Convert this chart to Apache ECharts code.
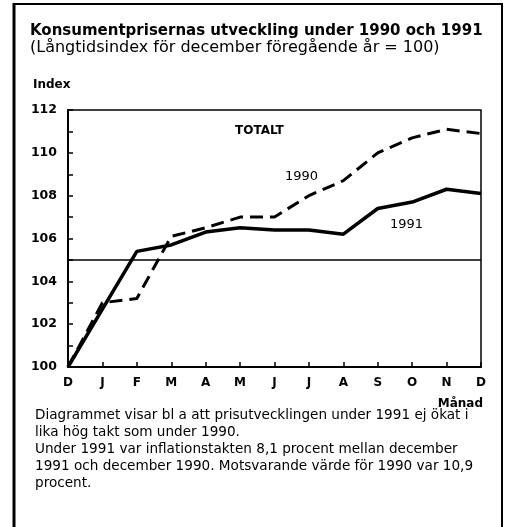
<!DOCTYPE html>
<html>
<head>
<meta charset="utf-8">
<script src="https://cdn.jsdelivr.net/npm/echarts@6/dist/echarts.min.js"></script>
<style>
html,body{margin:0;padding:0;background:#fff;}
#chart{width:506px;height:527px;}
</style>
</head>
<body>
<div id="chart"></div>
<script>
const months = ['D','J','F','M','A','M','J','J','A','S','O','N','D'];
const values1990 = [100, 103.0, 103.2, 106.1, 106.5, 107.0, 107.0, 108.0, 108.7, 110.0, 110.7, 111.1, 110.9];
const values1991 = [100, 102.7, 105.4, 105.7, 106.3, 106.5, 106.4, 106.4, 106.2, 107.4, 107.7, 108.3, 108.1];
const referenceLevel = 105;
const yTicks = [100, 102, 104, 106, 108, 110, 112];

const FONT = '"DejaVu Sans", Verdana, sans-serif';
const chart = echarts.init(document.getElementById('chart'), null, {renderer: 'canvas'});

const option = {
  backgroundColor: '#fff',
  animation: false,
  grid: {left: 68, right: 25, top: 110, bottom: 160, show: true, borderColor: '#000', borderWidth: 1.5, backgroundColor: 'transparent'},
  xAxis: {
    type: 'category',
    data: months,
    boundaryGap: false,
    axisLine: {lineStyle: {color: '#000', width: 2}},
    axisTick: {inside: true, length: 5, lineStyle: {color: '#000', width: 1.5}, alignWithLabel: true},
    axisLabel: {color: '#000', fontFamily: FONT, fontWeight: 'bold', fontSize: 12, margin: 10, interval: 0},
    splitLine: {show: false}
  },
  yAxis: {
    type: 'value',
    min: 100, max: 112, interval: 1,
    axisLine: {show: true, lineStyle: {color: '#000', width: 2}},
    axisTick: {show: true, inside: true, length: 5, lineStyle: {color: '#000', width: 1.5}},
    axisLabel: {color: '#000', fontFamily: FONT, fontWeight: 'bold', fontSize: 12.5, margin: 11,
      formatter: v => yTicks.indexOf(v) >= 0 ? String(v) : ''},
    splitLine: {show: false}
  },
  series: [
    {
      name: '1990', type: 'line', data: values1990, symbol: 'none',
      lineStyle: {color: '#000', width: 3, type: [13, 7]},
      z: 3
    },
    {
      name: '1991', type: 'line', data: values1991, symbol: 'none',
      lineStyle: {color: '#000', width: 3.5},
      z: 4,
      markLine: {
        silent: true, symbol: 'none', label: {show: false},
        lineStyle: {color: '#000', width: 1.5, type: 'solid'},
        data: [{yAxis: referenceLevel}]
      }
    }
  ],
  graphic: [
    {type: 'line', shape: {x1: 14, y1: 3, x2: 14, y2: 540}, style: {stroke: '#000', lineWidth: 3}},
    {type: 'line', shape: {x1: 502, y1: 3, x2: 502, y2: 540}, style: {stroke: '#000', lineWidth: 2}},
    {type: 'line', shape: {x1: 13, y1: 4, x2: 503, y2: 4}, style: {stroke: '#000', lineWidth: 2}},
    {type: 'text', left: 30, top: 24, style: {text: 'Konsumentprisernas utveckling under 1990 och 1991', font: 'bold 15px ' + FONT, fill: '#000'}},
    {type: 'text', left: 30, top: 40, style: {text: '(Långtidsindex för december föregående år = 100)', font: '16px ' + FONT, fill: '#000'}},
    {type: 'text', left: 33, top: 79, style: {text: 'Index', font: 'bold 12px ' + FONT, fill: '#000'}},
    {type: 'text', left: 235, top: 125, style: {text: 'TOTALT', font: 'bold 12px ' + FONT, fill: '#000'}},
    {type: 'text', left: 285, top: 170, style: {text: '1990', font: '13px ' + FONT, fill: '#000'}},
    {type: 'text', left: 390, top: 218, style: {text: '1991', font: '13px ' + FONT, fill: '#000'}},
    {type: 'text', right: 23, top: 398, style: {text: 'Månad', font: 'bold 12px ' + FONT, fill: '#000'}},
    {type: 'text', left: 35, top: 407, style: {
      text: 'Diagrammet visar bl a att prisutvecklingen under 1991 ej ökat i\nlika hög takt som under 1990.\nUnder 1991 var inflationstakten 8,1 procent mellan december\n1991 och december 1990. Motsvarande värde för 1990 var 10,9\nprocent.',
      font: '13.6px ' + FONT, lineHeight: 17, fill: '#000'}}
  ]
};
chart.setOption(option);
</script>
</body>
</html>
